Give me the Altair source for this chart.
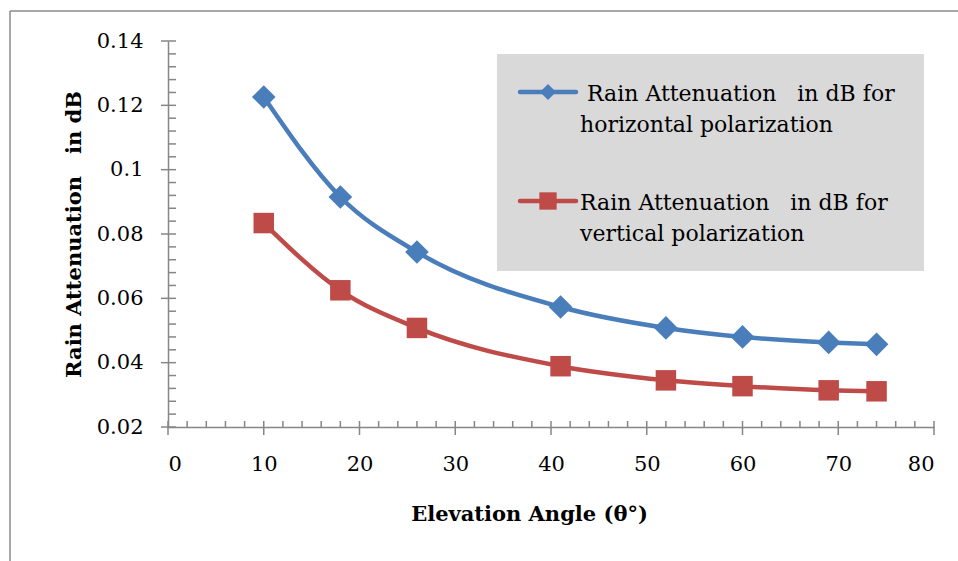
import altair as alt
import pandas as pd

# ---- data ----
angles = [10, 18, 26, 41, 52, 60, 69, 74]
horizontal = [0.1226, 0.0915, 0.0744, 0.0573, 0.0508, 0.0480, 0.0463, 0.0457]
vertical = [0.0834, 0.0625, 0.0508, 0.0389, 0.0345, 0.0327, 0.0314, 0.0311]
series = ["horizontal", "vertical"]
colors = ["#4A7EBB", "#BE4B48"]
legend_line1 = ["Rain Attenuation\u00a0\u00a0 in dB for", "Rain Attenuation\u00a0\u00a0 in dB for"]
legend_line2 = ["horizontal polarization", "vertical polarization"]
x_major = [0, 10, 20, 30, 40, 50, 60, 70, 80]
y_major = [0.02, 0.04, 0.06, 0.08, 0.10, 0.12, 0.14]
x_minor = [v for v in range(0, 81, 2) if v % 10 != 0]
y_minor = [round(0.02 + 0.004 * i, 3) for i in range(31) if i % 5 != 0]

W, H = 766, 386
LEFT, TOP = 168, 41
FONT = "DejaVu Serif"
GRAY = "#868686"

df = pd.DataFrame({
    "angle": angles * 2,
    "att": horizontal + vertical,
    "series": [series[0]] * len(angles) + [series[1]] * len(angles),
})

xscale = alt.Scale(domain=[0, 80], nice=False, zero=False)
yscale = alt.Scale(domain=[0.02, 0.14], nice=False, zero=False)
cscale = alt.Scale(domain=series, range=colors)

x_axis = alt.Axis(values=x_major, ticks=False, grid=False, domainColor=GRAY, domainWidth=1.5,
                  labelFont=FONT, labelFontSize=21, labelColor="black", labelPadding=26,
                  title="Elevation Angle (θ°)", titleFont=FONT, titleFontSize=21,
                  titleFontWeight="bold", titleColor="black", titleX=361, titleY=93,
                  titleAlign="center", titleBaseline="alphabetic", format="d")
y_axis = alt.Axis(values=y_major, ticks=False, grid=False, domainColor=GRAY, domainWidth=1.5,
                  labelFont=FONT, labelFontSize=21, labelColor="black", labelPadding=25,
                  labelExpr="format(datum.value, '.2~f') == '0.1' ? '0.1' : format(datum.value, '.2f')",
                  title="Rain Attenuation\u00a0\u00a0 in dB", titleFont=FONT, titleFontSize=21,
                  titleFontWeight="bold", titleColor="black", titleX=-88, titleY=193,
                  titleAngle=-90, titleAlign="center", titleBaseline="alphabetic")

lines = alt.Chart(df).mark_line(strokeWidth=4.5, interpolate="monotone").encode(
    x=alt.X("angle:Q", scale=xscale, axis=x_axis),
    y=alt.Y("att:Q", scale=yscale, axis=y_axis),
    color=alt.Color("series:N", scale=cscale, legend=None),
    detail="series:N",
)

pts = alt.Chart(df).mark_point(filled=True, opacity=1, strokeWidth=0).encode(
    x=alt.X("angle:Q", scale=xscale),
    y=alt.Y("att:Q", scale=yscale),
    color=alt.Color("series:N", scale=cscale, legend=None),
    shape=alt.Shape("series:N", scale=alt.Scale(domain=series, range=["diamond", "square"]), legend=None),
    size=alt.Size("series:N", scale=alt.Scale(domain=series, range=[560, 420]), legend=None),
)

# axis ticks
xmaj = alt.Chart(pd.DataFrame({"angle": x_major})).mark_rule(color=GRAY, strokeWidth=1.5).encode(
    x=alt.X("angle:Q", scale=xscale), y=alt.value(H - 6), y2=alt.value(H + 8))
xmin = alt.Chart(pd.DataFrame({"angle": x_minor})).mark_rule(color=GRAY, strokeWidth=1.5).encode(
    x=alt.X("angle:Q", scale=xscale), y=alt.value(H - 6), y2=alt.value(H))
ymaj = alt.Chart(pd.DataFrame({"att": y_major})).mark_rule(color=GRAY, strokeWidth=1.5).encode(
    y=alt.Y("att:Q", scale=yscale), x=alt.value(-7), x2=alt.value(8))
ymin = alt.Chart(pd.DataFrame({"att": y_minor})).mark_rule(color=GRAY, strokeWidth=1.5).encode(
    y=alt.Y("att:Q", scale=yscale), x=alt.value(0), x2=alt.value(8))

one = pd.DataFrame({"k": [0]})
# outer chart frame (left and top edges visible)
frame_left = alt.Chart(one).mark_rule(color="#8a8a8a", strokeWidth=1.5).encode(
    x=alt.value(10 - LEFT), y=alt.value(11 - TOP), y2=alt.value(H + 200))
frame_top = alt.Chart(one).mark_rule(color="#8a8a8a", strokeWidth=1.5).encode(
    x=alt.value(10 - LEFT), x2=alt.value(W + 100), y=alt.value(11 - TOP))

# legend
leg_box = alt.Chart(one).mark_rect(color="#D9D9D9").encode(
    x=alt.value(497 - LEFT), x2=alt.value(924 - LEFT), y=alt.value(54 - TOP), y2=alt.value(271 - TOP))
leg_layers = []
for i, (ly, ty, tx1) in enumerate([(92, 101, 587), (201, 210, 580)]):
    leg_layers.append(alt.Chart(one).mark_rule(color=colors[i], strokeWidth=4.5, strokeCap="round").encode(
        x=alt.value(520 - LEFT), x2=alt.value(576 - LEFT), y=alt.value(ly - TOP)))
    leg_layers.append(alt.Chart(one).mark_point(filled=True, opacity=1, strokeWidth=0,
                                                 shape=["diamond", "square"][i], color=colors[i]).encode(
        x=alt.value(548 - LEFT), y=alt.value(ly - TOP), size=alt.value([260, 300][i])))
    leg_layers.append(alt.Chart(pd.DataFrame({"t": [legend_line1[i]]})).mark_text(
        font=FONT, fontSize=22, color="black", align="left", baseline="alphabetic").encode(
        x=alt.value(tx1 - LEFT), y=alt.value(ty - TOP), text="t:N"))
    leg_layers.append(alt.Chart(pd.DataFrame({"t": [legend_line2[i]]})).mark_text(
        font=FONT, fontSize=22, color="black", align="left", baseline="alphabetic").encode(
        x=alt.value(580 - LEFT), y=alt.value(ty + 31 - TOP), text="t:N"))

chart = alt.layer(
    frame_left, frame_top, leg_box, xmaj, xmin, ymaj, ymin, lines, pts, *leg_layers
).properties(
    width=W, height=H,
    autosize=alt.AutoSizeParams(type="none"),
    padding={"left": LEFT, "top": TOP, "right": 958 - LEFT - W, "bottom": 561 - TOP - H},
    background="white",
).configure_view(stroke=None)

chart.save("out.html", embed_options={"renderer": "svg", "actions": False})
